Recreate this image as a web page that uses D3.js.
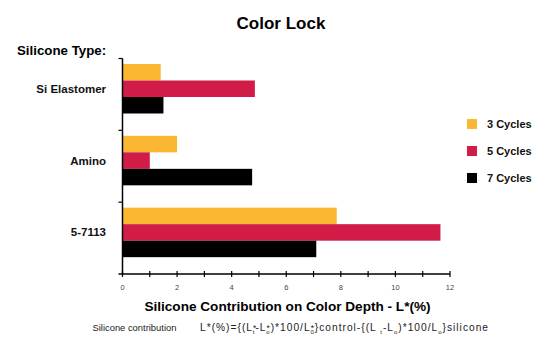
<!DOCTYPE html>
<html>
<head>
<meta charset="utf-8">
<script src="https://cdn.jsdelivr.net/npm/d3@7"></script>
<style>
  html, body { margin: 0; padding: 0; background: #fff; }
  svg { display: block; font-family: "Liberation Sans", Arial, sans-serif; }
</style>
</head>
<body>
<svg id="chart" width="536" height="344"></svg>
<script>
// Silicone types (top to bottom) and L*(%) contribution per wash-cycle count
const categories = ["Si Elastomer", "Amino", "5-7113"];
const seriesNames = ["3 Cycles", "5 Cycles", "7 Cycles"];
const cycles3 = [1.4, 2.0, 7.85];
const cycles5 = [4.85, 1.0, 11.65];
const cycles7 = [1.5, 4.75, 7.1];
const xTicks = [0, 1, 2, 3, 4, 5, 6, 7, 8, 9, 10, 11, 12];
const xTickLabels = [0, 2, 4, 6, 8, 10, 12];
const colors = ["#FBB632", "#D01C47", "#000000"];

const series = [cycles3, cycles5, cycles7];

const svg = d3.select("#chart");

const x = d3.scaleLinear().domain([0, 12]).range([122.5, 450]);
const y = d3.scaleBand().domain(categories).range([58.5, 274]);
const inner = d3.scaleBand().domain(d3.range(seriesNames.length))
  .range([5.5, 55]).paddingInner(0);

// bars
categories.forEach((cat, ci) => {
  const g = svg.append("g").attr("transform", `translate(0,${y(cat)})`);
  series.forEach((vals, si) => {
    g.append("rect")
      .attr("x", x(0))
      .attr("y", inner(si))
      .attr("width", x(vals[ci]) - x(0))
      .attr("height", inner.bandwidth())
      .attr("fill", colors[si]);
  });
});

// x axis: minor ticks every unit, labels every 2
const xAxis = svg.append("g").attr("transform", "translate(0,274)");
xAxis.append("line")
  .attr("x1", x(0) - 4).attr("x2", x(12))
  .attr("stroke", "#000").attr("stroke-width", 1.5);
xAxis.selectAll("line.tick").data(xTicks).join("line")
  .attr("class", "tick")
  .attr("x1", d => x(d)).attr("x2", d => x(d))
  .attr("y1", -3).attr("y2", 3)
  .attr("stroke", "#000").attr("stroke-width", 1.2);
xAxis.selectAll("text").data(xTickLabels).join("text")
  .attr("x", d => x(d)).attr("y", 16)
  .attr("text-anchor", "middle")
  .attr("font-size", 7.5)
  .attr("fill", "#444")
  .text(d => d);

// y axis with category separators
const yAxis = svg.append("g");
yAxis.append("line")
  .attr("x1", x(0)).attr("x2", x(0))
  .attr("y1", y.range()[0]).attr("y2", y.range()[1])
  .attr("stroke", "#000").attr("stroke-width", 1.5);
yAxis.selectAll("line.sep").data(categories).join("line")
  .attr("class", "sep")
  .attr("x1", x(0) - 4).attr("x2", x(0))
  .attr("y1", d => y(d)).attr("y2", d => y(d))
  .attr("stroke", "#000").attr("stroke-width", 1.2);
yAxis.selectAll("text").data(categories).join("text")
  .attr("x", 106)
  .attr("y", d => y(d) + inner(1) + inner.bandwidth() / 2)
  .attr("dy", "0.35em")
  .attr("text-anchor", "end")
  .attr("font-size", 11.5)
  .attr("font-weight", "bold")
  .attr("fill", "#111")
  .text(d => d);

// titles
svg.append("text")
  .attr("x", 281).attr("y", 29)
  .attr("text-anchor", "middle")
  .attr("font-size", 17).attr("font-weight", "bold")
  .text("Color Lock");
svg.append("text")
  .attr("x", 17).attr("y", 55)
  .attr("font-size", 13.3).attr("font-weight", "bold")
  .text("Silicone Type:");
svg.append("text")
  .attr("x", 287.5).attr("y", 311)
  .attr("text-anchor", "middle")
  .attr("font-size", 13.6).attr("font-weight", "bold")
  .text("Silicone Contribution on Color Depth - L*(%)");

// formula note: caption, then the expression with sub/superscripts
const baseY = 331;
svg.append("text")
  .attr("x", 92.5).attr("y", baseY)
  .attr("font-size", 9.4)
  .attr("fill", "#222")
  .text("Silicone contribution");

const f = svg.append("text")
  .attr("x", 200).attr("y", baseY)
  .attr("font-size", 10.2)
  .attr("fill", "#222")
  .attr("textLength", 288)
  .attr("lengthAdjust", "spacing")
  .attr("xml:space", "preserve");
const parts = [
  ["L*(%)={(L", null],
  ["*", "sup"], ["t", "subx"],
  ["-L", null], ["*", "sup"], ["o", "subx"],
  [")*100/L", null], ["*", "sup"], ["0", "subx"],
  ["}control-{(L ", null], ["t", "sub"],
  ["-L", null], ["o", "sub"],
  [")*100/L", null], ["o", "sub"],
  ["}silicone", null]
];
parts.forEach(([t, kind]) => {
  const ts = f.append("tspan").text(t);
  if (kind === "sup") {
    ts.attr("y", baseY).attr("font-size", 8.5);
  } else if (kind === "subx") {
    ts.attr("y", baseY + 2.5).attr("font-size", 6).attr("dx", -4.5);
  } else if (kind === "sub") {
    ts.attr("y", baseY + 2.5).attr("font-size", 6);
  } else {
    ts.attr("y", baseY);
  }
});

// legend
const legend = svg.append("g").attr("transform", "translate(467,119)");
seriesNames.forEach((name, i) => {
  const row = legend.append("g").attr("transform", `translate(0,${i * 27})`);
  row.append("rect").attr("width", 10).attr("height", 10).attr("fill", colors[i]);
  row.append("text")
    .attr("x", 20).attr("y", 5).attr("dy", "0.35em")
    .attr("font-size", 11).attr("font-weight", "bold")
    .attr("fill", "#111")
    .text(name);
});
</script>
</body>
</html>
